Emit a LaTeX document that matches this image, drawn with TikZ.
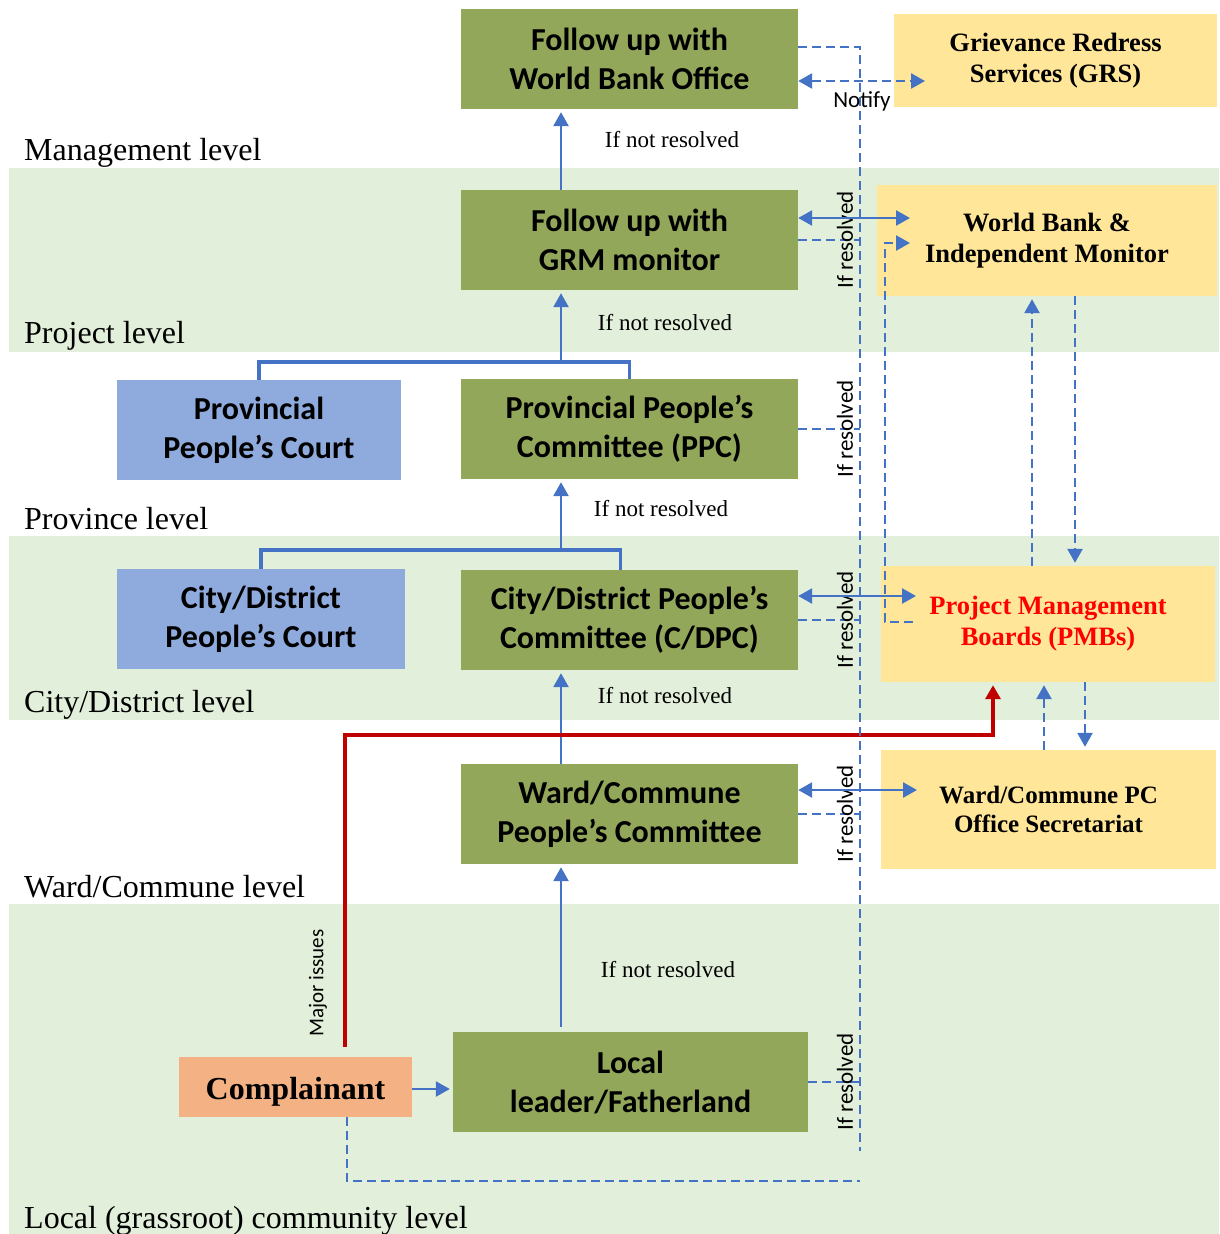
\documentclass[tikz,border=0pt]{standalone}
\usepackage{fontspec}
\setmainfont{Liberation Serif}
\newfontfamily\carlito{Carlito}
\usetikzlibrary{arrows.meta}
\definecolor{boxgreen}{RGB}{147,167,90}
\definecolor{boxblue}{RGB}{143,170,220}
\definecolor{boxyellow}{RGB}{255,230,153}
\definecolor{boxorange}{RGB}{244,177,131}
\definecolor{bandgreen}{RGB}{226,239,218}
\definecolor{lineblue}{RGB}{68,114,196}
\definecolor{linered}{RGB}{192,0,0}
\definecolor{pmbred}{RGB}{255,0,0}

\begin{document}
\begin{tikzpicture}[x=1pt,y=-1pt,
    every node/.style={inner sep=0pt, align=center},
    greenbox/.style={fill=boxgreen, minimum width=337pt, minimum height=100pt, font={\carlito\bfseries\fontsize{32}{39}\selectfont}},
    bluebox/.style={greenbox, fill=boxblue},
    yellowbox/.style={fill=boxyellow, font={\bfseries\fontsize{26.5}{31}\selectfont}},
    orangebox/.style={fill=boxorange, minimum width=233pt, minimum height=60pt, text height=26pt, text depth=2pt, font={\bfseries\fontsize{32}{38}\selectfont}},
    lvl/.style={anchor=base west, font={\fontsize{32}{38}\selectfont}},
    notres/.style={font={\fontsize{23}{27}\selectfont}},
    minor/.style={font={\carlito\fontsize{21}{25}\selectfont}},
    resolved/.style={minor, rotate=90, font={\carlito\fontsize{23}{27}\selectfont}},
    arr/.style={draw=lineblue, line width=2.6pt, -{Triangle[length=14pt,width=15pt]}, shorten >=3pt},
    dbl/.style={arr, {Triangle[length=14pt,width=15pt]}-{Triangle[length=14pt,width=15pt]}},
    dsh/.style={draw=lineblue, line width=2.3pt, dash pattern=on 9pt off 5pt},
    brk/.style={draw=lineblue, line width=3.5pt},
    redarr/.style={draw=linered, line width=3.8pt, -{Triangle[length=14pt,width=15pt]}, shorten >=3pt}]
\useasboundingbox (0,0) rectangle (1219,1234);
\fill[bandgreen] (9,168) rectangle (1219,352);
\fill[bandgreen] (9,536) rectangle (1219,720);
\fill[bandgreen] (9,904) rectangle (1219,1234);

\node[lvl] (lmgmt) at (24,160) {Management level};
\node[lvl] (lproj) at (24,343) {Project level};
\node[lvl] (lprov) at (24,529) {Province level};
\node[lvl] (lcity) at (24,712) {City/District level};
\node[lvl] (lward) at (24,897) {Ward/Commune level};
\node[lvl] (llocal) at (24,1228) {Local (grassroot) community level};

\node[greenbox] (wbo) at (629.5,59) {Follow up with\\World Bank Office};
\node[yellowbox, minimum width=323pt, minimum height=93pt] (grs) at (1055.5,60.5) {Grievance Redress\\Services (GRS)};
\node[greenbox] (grm) at (629.5,240) {Follow up with\\GRM monitor};
\node[yellowbox, minimum width=340pt, minimum height=111pt] (wbim) at (1047,240.5) {World Bank \&\\Independent Monitor};
\node[bluebox, minimum width=284pt] (pcourt) at (259,430) {Provincial\\People’s Court};
\node[greenbox] (ppc) at (629.5,429) {Provincial People’s\\Committee (PPC)};
\node[bluebox, minimum width=288pt] (cdcourt) at (261,619) {City/District\\People’s Court};
\node[greenbox] (cdpc) at (629.5,620) {City/District People’s\\Committee (C/DPC)};
\node[yellowbox, text=pmbred, minimum width=334pt, minimum height=116pt] (pmb) at (1048,624) {Project Management\\Boards (PMBs)};
\node[greenbox] (wpc) at (629.5,814) {Ward/Commune\\People’s Committee};
\node[yellowbox, font={\bfseries\fontsize{25}{29}\selectfont}, minimum width=335pt, minimum height=119pt] (wsec) at (1048.5,809.5) {Ward/Commune PC\\Office Secretariat};
\node[orangebox] (comp) at (295.5,1087) {Complainant};
\node[greenbox, minimum width=355pt] (local) at (630.5,1082) {Local\\leader/Fatherland};

\coordinate (spine) at (561,0);
\coordinate (rv) at (860,0);
\coordinate (lab) at (845,0);
\coordinate (jp) at (561,362);
\coordinate (jc) at (561,550);

\draw[arr] (spine |- grm.north) -- (spine |- wbo.south);
\draw[brk] (pcourt.north) |- (jp) -| (ppc.north);
\draw[arr] (jp) -- (spine |- grm.south);
\draw[brk] (cdcourt.north) |- (jc) -| ([xshift=-9pt]cdpc.north);
\draw[arr] (jc) -- (spine |- ppc.south);
\draw[arr] (spine |- wpc.north) -- (spine |- cdpc.south);
\draw[arr] ([yshift=5pt]spine |- local.north) -- (spine |- wpc.south);
\draw[arr] (comp.east |- 0,1089) -- (local.west |- 0,1089);

\node[notres] (nr1) at (672,140) {If not resolved};
\node[notres] (nr2) at (665,323) {If not resolved};
\node[notres] (nr3) at (661,509) {If not resolved};
\node[notres] (nr4) at (665,696) {If not resolved};
\node[notres] (nr5) at (668,970) {If not resolved};

\coordinate (mi) at (345,1047);
\coordinate (rt) at (993,735);
\draw[redarr] (mi) |- (rt) -- (rt |- pmb.south);
\node[minor, rotate=90] (major) at (318,983) {Major issues};

\coordinate (dtop) at (860,1151);
\coordinate (dbot) at (860,1181);
\draw[dsh] (wbo.east |- 0,47) -| (dtop);
\draw[dsh] (comp.south -| 347,0) |- (dbot);
\foreach \n in {grm,ppc,cdpc,wpc,local} {
  \draw[dsh] (\n.east) -- (\n.east -| rv);
  \node[resolved] (res-\n) at (\n.east -| lab) {If resolved};
}

\coordinate (ngrs) at (928,81);
\draw[dsh, dbl] (wbo.east |- ngrs) -- (ngrs);
\node[minor, font={\carlito\fontsize{23}{27}\selectfont}] (notify) at (862,101) {Notify};

\coordinate (nwbim) at (913,218);
\coordinate (dwbim) at (913,243);
\coordinate (dpmb) at (913,622);
\coordinate (npmb) at (919,596);
\coordinate (nwsec) at (920,790);
\draw[dbl] (grm.east |- nwbim) -- (nwbim);
\draw[dsh, arr] (dpmb) -- (885,622) |- (dwbim);
\draw[dbl] (cdpc.east |- npmb) -- (npmb);
\draw[dbl] (wpc.east |- nwsec) -- (nwsec);

\draw[dsh, arr] (pmb.north -| 1032,0) -- (wbim.south -| 1032,0);
\draw[dsh, arr] (wbim.south -| 1075,0) -- (pmb.north -| 1075,0);
\draw[dsh, arr] (wsec.north -| 1044,0) -- (pmb.south -| 1044,0);
\draw[dsh, arr] (pmb.south -| 1085,0) -- (wsec.north -| 1085,0);
\end{tikzpicture}
\end{document}
